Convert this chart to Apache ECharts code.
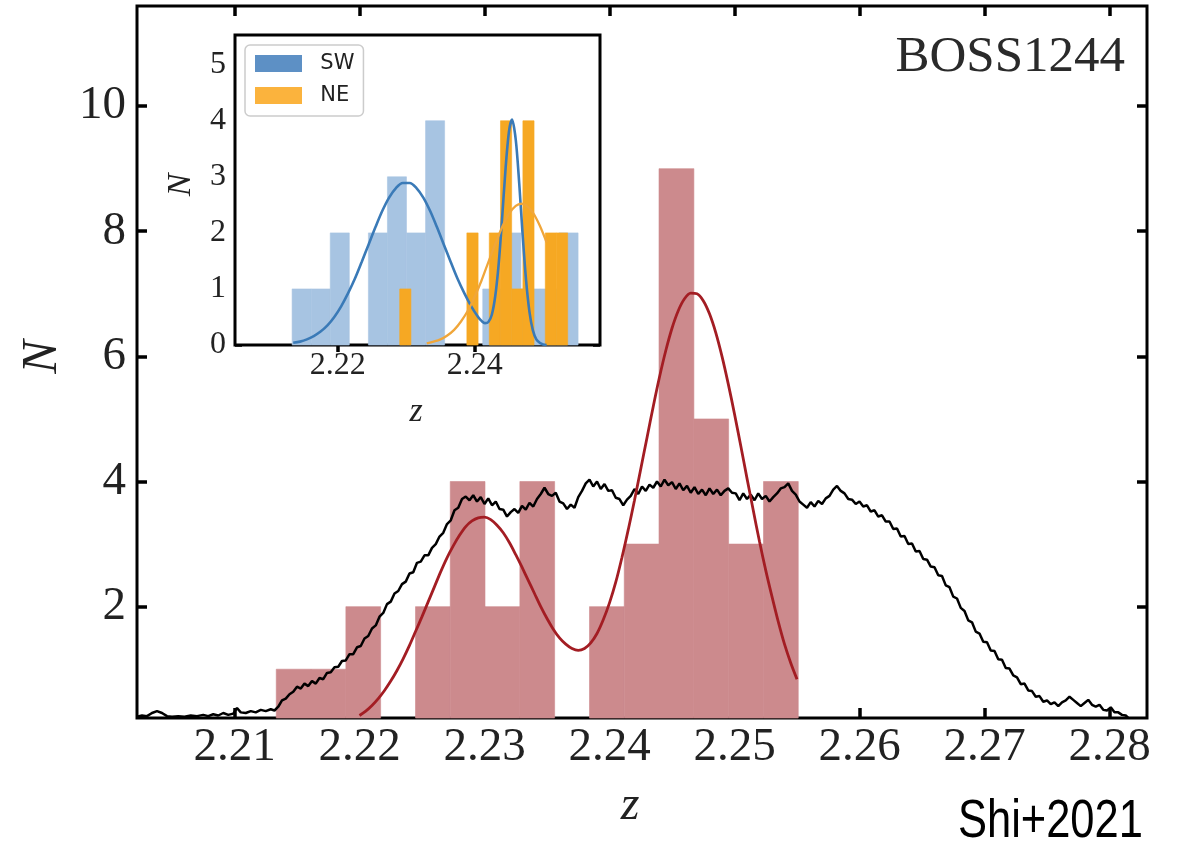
<!DOCTYPE html>
<html>
<head>
<meta charset="utf-8">
<script src="https://cdn.jsdelivr.net/npm/echarts@6/dist/echarts.min.js"></script>
<style>
  html, body { margin: 0; padding: 0; background: #fff; }
  #chart { width: 1177px; height: 844px; }
</style>
</head>
<body>
<div id="chart"></div>
<script>
// ---- tick labels ----
const mainXTicks = [2.21, 2.22, 2.23, 2.24, 2.25, 2.26, 2.27, 2.28];
const mainYTicks = [2, 4, 6, 8, 10];
const insetXTicks = [2.22, 2.24];
const insetYTicks = [0, 1, 2, 3, 4, 5];

// ---- histogram bins (redshift edges) and counts ----
const binEdges = [2.21334, 2.21612, 2.21891, 2.22169, 2.22448, 2.22726, 2.23004, 2.23283,
                  2.23561, 2.23840, 2.24118, 2.24396, 2.24675, 2.24953, 2.25232, 2.25510];
const totalCounts = [1, 1, 2, 0, 2, 4, 2, 4, 0, 2, 3, 9, 5, 3, 4];
const swCounts    = [1, 1, 2, 0, 2, 3, 2, 4, 0, 0, 1, 2, 1, 1, 2];

const neEdges = [2.22905, 2.23069, 2.23232, 2.23396, 2.23559, 2.23723, 2.23886, 2.24050,
                 2.24213, 2.24377, 2.24540, 2.24704, 2.24867, 2.25031, 2.25194, 2.25358];
const neCounts = [1, 0, 0, 0, 0, 0, 2, 0, 2, 4, 1, 4, 0, 2, 2];

// ---- smoothed random-sample redshift distribution (black) ----
const sampleCurve = [
  [2.2022,0.24],[2.2026,0.26],[2.2030,0.25],[2.2034,0.30],[2.2038,0.33],[2.2042,0.30],[2.2046,0.25],
  [2.2050,0.24],[2.2055,0.25],[2.2060,0.24],[2.2065,0.26],[2.2070,0.25],[2.2075,0.27],[2.2079,0.25],
  [2.2083,0.28],[2.2087,0.26],[2.2091,0.30],[2.2095,0.27],[2.2099,0.29],[2.2102,0.38],[2.2105,0.31],
  [2.2109,0.30],[2.2113,0.33],[2.2117,0.31],[2.2121,0.35],[2.2125,0.33],[2.2129,0.36],[2.2132,0.34],
  [2.2135,0.40],[2.2138,0.50],[2.2141,0.53],[2.2144,0.60],[2.2147,0.64],[2.2150,0.72],[2.2153,0.69],
  [2.2156,0.77],[2.2159,0.73],[2.2162,0.81],[2.2165,0.77],[2.2168,0.86],[2.2171,0.84],[2.2174,0.94],
  [2.2177,0.95],[2.2180,1.03],[2.2183,1.04],[2.2186,1.13],[2.2189,1.14],[2.2192,1.24],[2.2195,1.24],
  [2.2198,1.35],[2.2201,1.37],[2.2204,1.49],[2.2207,1.53],[2.2210,1.65],[2.2213,1.70],[2.2216,1.84],
  [2.2219,1.90],[2.2222,2.04],[2.2225,2.08],[2.2228,2.21],[2.2231,2.25],[2.2234,2.36],[2.2237,2.40],
  [2.2240,2.53],[2.2243,2.55],[2.2246,2.70],[2.2249,2.72],[2.2252,2.82],[2.2255,2.82],[2.2258,2.94],
  [2.2261,3.00],[2.2264,3.12],[2.2267,3.18],[2.2270,3.32],[2.2273,3.38],[2.2276,3.54],[2.2279,3.58],
  [2.2282,3.72],[2.2285,3.76],[2.2288,3.70],[2.2291,3.78],[2.2294,3.68],[2.2297,3.75],[2.2300,3.64],
  [2.2303,3.73],[2.2306,3.62],[2.2309,3.68],[2.2312,3.56],[2.2315,3.55],[2.2318,3.44],[2.2321,3.51],
  [2.2324,3.56],[2.2327,3.50],[2.2330,3.61],[2.2333,3.55],[2.2336,3.66],[2.2339,3.60],[2.2342,3.72],
  [2.2345,3.80],[2.2348,3.90],[2.2351,3.80],[2.2354,3.77],[2.2357,3.82],[2.2360,3.68],[2.2363,3.65],
  [2.2366,3.56],[2.2369,3.63],[2.2372,3.58],[2.2375,3.75],[2.2378,3.85],[2.2381,3.97],[2.2384,4.03],
  [2.2387,3.92],[2.2390,4.00],[2.2393,3.88],[2.2396,3.96],[2.2399,3.85],[2.2402,3.86],[2.2405,3.74],
  [2.2408,3.72],[2.2411,3.62],[2.2414,3.71],[2.2417,3.77],[2.2420,3.88],[2.2423,3.80],[2.2426,3.92],
  [2.2429,3.85],[2.2432,3.95],[2.2435,3.90],[2.2438,4.00],[2.2441,3.92],[2.2444,4.03],[2.2447,3.94],
  [2.2450,3.99],[2.2453,3.88],[2.2456,3.97],[2.2459,3.86],[2.2462,3.93],[2.2465,3.82],[2.2468,3.91],
  [2.2471,3.80],[2.2474,3.87],[2.2477,3.78],[2.2480,3.89],[2.2483,3.80],[2.2486,3.87],[2.2489,3.78],
  [2.2492,3.85],[2.2495,3.89],[2.2498,3.82],[2.2501,3.81],[2.2504,3.70],[2.2507,3.81],[2.2510,3.72],
  [2.2513,3.79],[2.2516,3.70],[2.2519,3.81],[2.2522,3.72],[2.2525,3.77],[2.2528,3.68],[2.2531,3.75],
  [2.2534,3.81],[2.2537,3.89],[2.2540,3.91],[2.2543,3.97],[2.2546,3.85],[2.2549,3.79],[2.2552,3.68],
  [2.2555,3.63],[2.2558,3.58],[2.2561,3.67],[2.2564,3.60],[2.2567,3.69],[2.2570,3.64],[2.2573,3.73],
  [2.2576,3.77],[2.2579,3.87],[2.2582,3.93],[2.2585,3.85],[2.2588,3.81],[2.2591,3.72],[2.2594,3.71],
  [2.2597,3.64],[2.2600,3.68],[2.2603,3.60],[2.2606,3.62],[2.2609,3.52],[2.2612,3.54],[2.2615,3.44],
  [2.2618,3.46],[2.2621,3.36],[2.2624,3.36],[2.2627,3.24],[2.2630,3.25],[2.2633,3.12],[2.2636,3.13],
  [2.2639,3.00],[2.2642,3.01],[2.2645,2.88],[2.2648,2.89],[2.2651,2.76],[2.2654,2.75],[2.2657,2.64],
  [2.2660,2.63],[2.2663,2.50],[2.2666,2.49],[2.2669,2.34],[2.2672,2.31],[2.2675,2.16],[2.2678,2.13],
  [2.2681,1.98],[2.2684,1.93],[2.2687,1.78],[2.2690,1.75],[2.2693,1.60],[2.2696,1.57],[2.2699,1.44],
  [2.2702,1.43],[2.2705,1.30],[2.2708,1.29],[2.2711,1.16],[2.2714,1.15],[2.2717,1.02],[2.2720,1.01],
  [2.2723,0.90],[2.2726,0.87],[2.2729,0.76],[2.2732,0.77],[2.2735,0.66],[2.2738,0.65],[2.2741,0.56],
  [2.2744,0.57],[2.2747,0.48],[2.2750,0.50],[2.2753,0.44],[2.2756,0.47],[2.2759,0.41],[2.2762,0.47],
  [2.2765,0.50],[2.2768,0.56],[2.2771,0.51],[2.2774,0.46],[2.2777,0.41],[2.2780,0.46],[2.2783,0.51],
  [2.2786,0.43],[2.2789,0.40],[2.2792,0.43],[2.2795,0.35],[2.2798,0.34],[2.2801,0.39],[2.2804,0.31],
  [2.2807,0.31],[2.2810,0.27],[2.2813,0.26],[2.2815,0.22]
];

// ---- double-peak fit to the full sample (dark red) ----
const fitCurve = [
  [2.2200,0.26],[2.2205,0.33],[2.2210,0.42],[2.2215,0.53],[2.2220,0.66],[2.2225,0.81],[2.2230,0.98],
  [2.2235,1.17],[2.2240,1.38],[2.2245,1.61],[2.2250,1.84],[2.2255,2.08],[2.2260,2.32],[2.2265,2.56],
  [2.2270,2.78],[2.2275,2.97],[2.2280,3.14],[2.2285,3.28],[2.2290,3.37],[2.2295,3.42],[2.2300,3.43],
  [2.2305,3.39],[2.2310,3.30],[2.2315,3.18],[2.2320,3.02],[2.2325,2.83],[2.2330,2.63],[2.2335,2.42],
  [2.2340,2.21],[2.2345,2.00],[2.2350,1.81],[2.2355,1.64],[2.2360,1.50],[2.2365,1.40],[2.2370,1.33],
  [2.2375,1.30],[2.2380,1.33],[2.2385,1.42],[2.2390,1.57],[2.2395,1.79],[2.2400,2.06],[2.2405,2.39],
  [2.2410,2.79],[2.2415,3.23],[2.2420,3.70],[2.2425,4.20],[2.2430,4.70],[2.2435,5.20],[2.2440,5.67],
  [2.2445,6.09],[2.2450,6.45],[2.2455,6.73],[2.2460,6.92],[2.2465,7.01],[2.2470,7.00],[2.2475,6.89],
  [2.2480,6.68],[2.2485,6.38],[2.2490,6.00],[2.2495,5.56],[2.2500,5.08],[2.2505,4.57],[2.2510,4.05],
  [2.2515,3.54],[2.2520,3.04],[2.2525,2.58],[2.2530,2.16],[2.2535,1.76],[2.2540,1.40],[2.2545,1.10],
  [2.2550,0.84]
];

// ---- inset fits: SW (two components) and NE ----
const swFit = [
  [2.2135,0.04],[2.2145,0.06],[2.2155,0.10],[2.2165,0.16],[2.2175,0.24],[2.2185,0.35],[2.2195,0.50],
  [2.2205,0.69],[2.2215,0.92],[2.2225,1.18],[2.2235,1.48],[2.2245,1.79],[2.2255,2.10],[2.2265,2.39],
  [2.2275,2.63],[2.2285,2.80],[2.2295,2.89],[2.2305,2.89],[2.2315,2.80],[2.2325,2.63],[2.2335,2.39],
  [2.2345,2.10],[2.2355,1.79],[2.2365,1.48],[2.2375,1.18],[2.2385,0.92],[2.2395,0.69],[2.2405,0.50],
  [2.2410,0.43],[2.2415,0.39],[2.2420,0.41],[2.2425,0.54],[2.2430,0.87],[2.2435,1.44],[2.2440,2.25],
  [2.2445,3.13],[2.2450,3.80],[2.24545,4.02],[2.2460,3.66],[2.2465,2.89],[2.2470,1.97],[2.2475,1.16],
  [2.2480,0.59],[2.2485,0.26],[2.2490,0.10],[2.2495,0.04],[2.2500,0.01],[2.2505,0.00]
];
const neFit = [
  [2.2330,0.03],[2.2340,0.06],[2.2350,0.10],[2.2360,0.17],[2.2370,0.27],[2.2380,0.42],[2.2390,0.61],
  [2.2400,0.86],[2.2410,1.15],[2.2420,1.48],[2.2430,1.80],[2.2440,2.10],[2.2450,2.34],[2.2460,2.48],
  [2.2468,2.52],[2.2475,2.49],[2.2485,2.36],[2.2495,2.13],[2.2505,1.83]
];

// ---- axis ranges ----
const MAIN_X = [2.2022, 2.2830];
const MAIN_Y = [0.22, 11.6];
const INSET_X = [2.2050, 2.2583];
const INSET_Y = [0, 5.53];

function toBins(edges, counts) {
  return counts.map((n, i) => [edges[i], edges[i + 1], n]).filter(d => d[2] > 0);
}

function histItem(yBase) {
  return function (params, api) {
    const p0 = api.coord([api.value(0), api.value(2)]);
    const p1 = api.coord([api.value(1), yBase]);
    const fill = api.visual('color');
    return {
      type: 'rect',
      shape: { x: p0[0], y: p0[1], width: p1[0] - p0[0], height: p1[1] - p0[1] },
      style: { fill: fill, stroke: fill, lineWidth: 0.6 }
    };
  };
}

const serif = 'Liberation Serif';
const tickStyle = (len, w) => ({ inside: true, length: len, lineStyle: { color: '#000', width: w } });

function xAxisDef(grid, range, ticks, pos, showLabels, fontSize, margin, tickLen) {
  return {
    type: 'value', gridIndex: grid, position: pos, min: range[0], max: range[1],
    axisLine: { show: false }, splitLine: { show: false },
    axisTick: Object.assign(tickStyle(tickLen, 3.5), { customValues: ticks }),
    axisLabel: {
      show: showLabels, customValues: ticks, margin: margin,
      formatter: v => v.toFixed(2),
      fontFamily: serif, fontSize: fontSize, color: '#222'
    }
  };
}
function yAxisDef(grid, range, ticks, pos, showLabels, fontSize, margin, tickLen) {
  return {
    type: 'value', gridIndex: grid, position: pos, min: range[0], max: range[1],
    axisLine: { show: false }, splitLine: { show: false },
    axisTick: Object.assign(tickStyle(tickLen, 3.5), { customValues: ticks }),
    axisLabel: {
      show: showLabels, customValues: ticks, margin: margin,
      formatter: v => String(v),
      fontFamily: serif, fontSize: fontSize, color: '#222'
    }
  };
}

const chart = echarts.init(document.getElementById('chart'), null, { renderer: 'canvas' });

chart.setOption({
  animation: false,
  backgroundColor: '#fff',
  grid: [
    { left: 137, top: 6, width: 1010, height: 712, show: true, borderColor: '#000', borderWidth: 3, backgroundColor: 'transparent' },
    { left: 235, top: 35, width: 365, height: 310, show: true, borderColor: '#000', borderWidth: 3, backgroundColor: '#fff', z: 3 }
  ],
  xAxis: [
    xAxisDef(0, MAIN_X, mainXTicks, 'bottom', true, 47, 6, 10),
    xAxisDef(0, MAIN_X, mainXTicks, 'top', false, 47, 6, 10),
    xAxisDef(1, INSET_X, insetXTicks, 'bottom', true, 32, 5, 7),
    xAxisDef(1, INSET_X, insetXTicks, 'top', false, 32, 5, 7)
  ],
  yAxis: [
    yAxisDef(0, MAIN_Y, mainYTicks, 'left', true, 47, 11, 10),
    yAxisDef(0, MAIN_Y, mainYTicks, 'right', false, 47, 11, 10),
    yAxisDef(1, INSET_Y, insetYTicks, 'left', true, 32, 9, 7),
    yAxisDef(1, INSET_Y, insetYTicks, 'right', false, 32, 9, 7)
  ],
  legend: {
    show: true, orient: 'vertical', left: 245, top: 45, z: 10,
    selectedMode: false,
    data: [
      { name: 'SW', itemStyle: { color: '#5d90c5' } },
      { name: 'NE', itemStyle: { color: '#fbb33d' } }
    ],
    icon: 'rect', itemWidth: 47, itemHeight: 17, itemGap: 11,
    formatter: name => '  ' + name,
    textStyle: { fontFamily: 'DejaVu Sans', fontSize: 21, color: '#222' },
    backgroundColor: '#fff', borderColor: '#cccccc', borderWidth: 1.5, borderRadius: 5,
    padding: [8, 9, 10, 10]
  },
  series: [
    {
      name: 'all', type: 'custom', xAxisIndex: 0, yAxisIndex: 0,
      renderItem: histItem(MAIN_Y[0]), itemStyle: { color: '#cc8a8d' },
      data: toBins(binEdges, totalCounts), z: 2
    },
    {
      name: 'sample', type: 'line', xAxisIndex: 0, yAxisIndex: 0,
      data: sampleCurve, showSymbol: false, symbol: 'none',
      lineStyle: { color: '#000', width: 2.5 }, z: 3
    },
    {
      name: 'fit', type: 'line', xAxisIndex: 0, yAxisIndex: 0,
      data: fitCurve, showSymbol: false, symbol: 'none', smooth: 0.3,
      lineStyle: { color: '#a31d23', width: 2.8 }, z: 4
    },
    {
      name: 'SW', type: 'custom', xAxisIndex: 2, yAxisIndex: 2,
      renderItem: histItem(INSET_Y[0]), itemStyle: { color: '#a7c4e2' },
      data: toBins(binEdges, swCounts), z: 5
    },
    {
      name: 'NE', type: 'custom', xAxisIndex: 2, yAxisIndex: 2,
      renderItem: histItem(INSET_Y[0]), itemStyle: { color: '#f6a823' },
      data: toBins(neEdges, neCounts), z: 6
    },
    {
      name: 'SW fit', type: 'line', xAxisIndex: 2, yAxisIndex: 2,
      data: swFit, showSymbol: false, symbol: 'none', smooth: 0.3,
      lineStyle: { color: '#3a7ab7', width: 2.6 }, z: 7
    },
    {
      name: 'NE fit', type: 'line', xAxisIndex: 2, yAxisIndex: 2,
      data: neFit, showSymbol: false, symbol: 'none', smooth: 0.3,
      lineStyle: { color: '#f0a63a', width: 2.3 }, z: 8
    }
  ],
  graphic: [
    { type: 'text', x: 43, y: 357, rotation: Math.PI / 2, z: 20,
      style: { text: 'N', font: 'italic 50px "Liberation Serif"', fill: '#222', align: 'center', verticalAlign: 'middle' } },
    { type: 'text', x: 630, y: 806, z: 20,
      style: { text: 'z', font: 'italic 48px "Liberation Serif"', fill: '#222', align: 'center', verticalAlign: 'middle' } },
    { type: 'text', x: 181, y: 185, rotation: Math.PI / 2, z: 20,
      style: { text: 'N', font: 'italic 34px "Liberation Serif"', fill: '#222', align: 'center', verticalAlign: 'middle' } },
    { type: 'text', x: 416, y: 412, z: 20,
      style: { text: 'z', font: 'italic 34px "Liberation Serif"', fill: '#222', align: 'center', verticalAlign: 'middle' } },
    { type: 'text', x: 1125, y: 58, z: 20,
      style: { text: 'BOSS1244', font: '51px "Liberation Serif"', fill: '#2a2a2a', align: 'right', verticalAlign: 'middle' } },
    { type: 'text', x: 958, y: 822, scaleX: 0.82, z: 20,
      style: { text: 'Shi+2021', font: '53px "Liberation Sans"', fill: '#000', align: 'left', verticalAlign: 'middle' } }
  ]
});
</script>
</body>
</html>
